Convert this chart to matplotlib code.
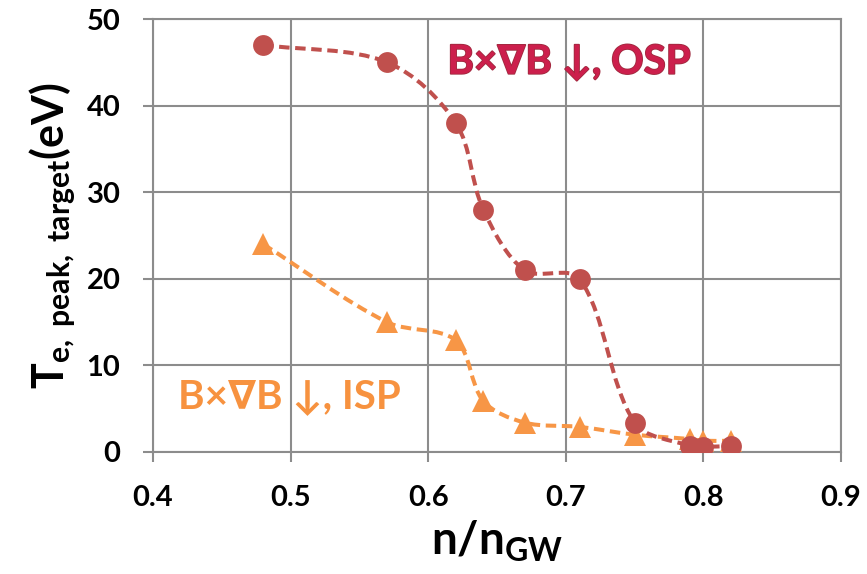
import numpy as np
import matplotlib
matplotlib.use("Agg")
import matplotlib.pyplot as plt
from matplotlib.path import Path
from matplotlib.patches import PathPatch
import matplotlib.patheffects as pe

# ---- data ----
x_osp = [0.48, 0.57, 0.62, 0.64, 0.67, 0.71, 0.75, 0.79, 0.80, 0.82]
y_osp = [47.0, 45.0, 38.0, 28.0, 21.0, 20.0, 3.4, 0.7, 0.6, 0.7]
x_isp = [0.48, 0.57, 0.62, 0.64, 0.67, 0.71, 0.75, 0.79, 0.80, 0.82]
y_isp = [24.0, 15.0, 12.9, 5.9, 3.4, 2.9, 2.0, 1.5, 1.3, 1.3]
xticks = [0.4, 0.5, 0.6, 0.7, 0.8, 0.9]
yticks = [0, 10, 20, 30, 40, 50]

c_osp = "#C0504D"
c_isp = "#F79646"
grid_c = "#8C8C8C"

plt.rcParams["font.family"] = ["Lato", "DejaVu Sans"]
plt.rcParams["font.weight"] = "bold"
plt.rcParams["mathtext.fontset"] = "custom"
plt.rcParams["mathtext.rm"] = "Lato:bold"
plt.rcParams["mathtext.it"] = "Lato:bold"
plt.rcParams["mathtext.bf"] = "Lato:bold"

fig = plt.figure(figsize=(8.67, 5.74), dpi=100)
ax = fig.add_axes([153/867, 1-452/574, (841-153)/867, (452-19)/574])
ax.set_xlim(0.4, 0.9)
ax.set_ylim(0, 50)


def smooth_path(xs, ys):
    """Smoothed line through the points: cubic Bezier segments whose control
    handles follow the neighbour chord, scaled by the adjacent segment lengths
    measured on screen (keeps the curve from overshooting)."""
    P = np.column_stack([xs, ys]).astype(float)
    S = ax.transData.transform(P)  # screen coords
    n = len(S)
    d = np.hypot(*np.diff(S, axis=0).T)
    out_h = np.zeros_like(S)
    in_h = np.zeros_like(S)
    for i in range(n):
        prev = S[i - 1] if i > 0 else S[i]
        nxt = S[i + 1] if i < n - 1 else S[i]
        T = nxt - prev
        dp = d[i - 1] if i > 0 else 0.0
        dn = d[i] if i < n - 1 else 0.0
        tot = dp + dn
        if tot == 0:
            continue
        out_h[i] = T * (dn / tot) / 3.0
        in_h[i] = T * (dp / tot) / 3.0
    verts = [S[0]]
    codes = [Path.MOVETO]
    for i in range(n - 1):
        verts += [S[i] + out_h[i], S[i + 1] - in_h[i + 1], S[i + 1]]
        codes += [Path.CURVE4] * 3
    V = ax.transData.inverted().transform(np.array(verts))
    return Path(V, codes)


for xs, ys, col, mk, ms, z in [(x_isp, y_isp, c_isp, "^", 16, 3),
                               (x_osp, y_osp, c_osp, "o", 15, 4)]:
    patch = PathPatch(smooth_path(xs, ys), facecolor="none", edgecolor=col,
                      lw=2.9, linestyle=(0, (2.6, 1.4)), zorder=z, capstyle="butt")
    ax.add_patch(patch)
    ax.plot(xs, ys, linestyle="none", marker=mk, ms=ms, color=col,
            markeredgewidth=0, zorder=z + 0.5)

ax.set_xticks(xticks)
ax.set_yticks(yticks)
ax.set_xticklabels([f"{v:.1f}" for v in xticks])
ax.set_yticklabels([str(v) for v in yticks])
ax.grid(True, color=grid_c, lw=1.5)
ax.set_axisbelow(True)
for s in ax.spines.values():
    s.set_color(grid_c)
    s.set_linewidth(1.5)
ax.tick_params(axis="both", direction="out", length=7.5, width=1.5, color=grid_c,
               labelsize=21, pad=16)
for lab in ax.get_xticklabels() + ax.get_yticklabels():
    lab.set_fontweight("bold")

ax.set_xlabel(r"n/n$_{\rm GW}$", fontsize=33, fontweight="bold", labelpad=6)
ax.set_ylabel(r"T$_{\rm e,\ peak,\ target}$(eV)", fontsize=31, fontweight="bold", labelpad=6)

ax.text(0.614, 45.0, "B×∇B ↓, OSP", fontsize=29, fontweight="bold",
        color="#CC1F4C", ha="left", va="center", zorder=6,
        path_effects=[pe.withStroke(linewidth=1.2, foreground="#9E2A3E")])
ax.text(0.418, 6.4, "B×∇B ↓, ISP", fontsize=29, fontweight="bold",
        color="#F7923F", ha="left", va="center", zorder=6)

fig.savefig("out.png", dpi=100)
